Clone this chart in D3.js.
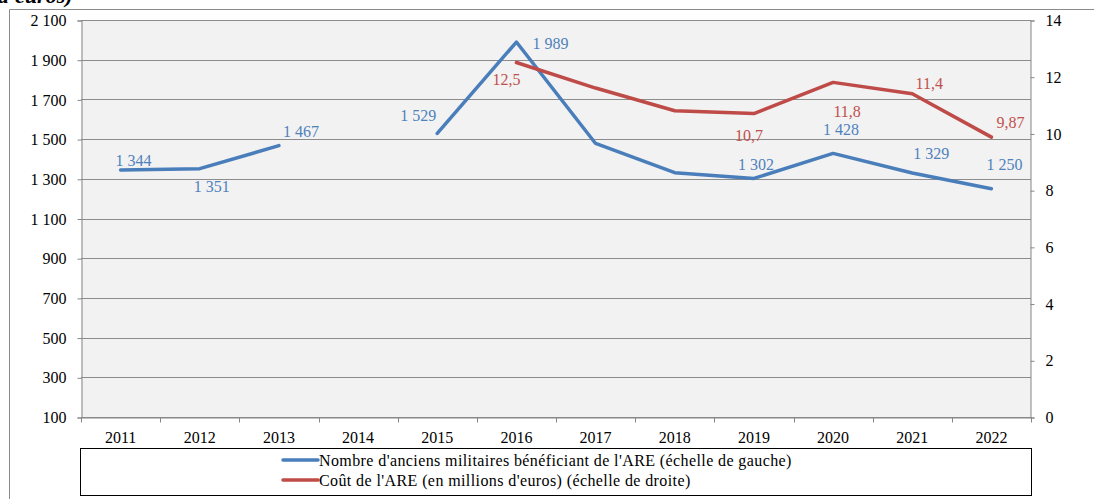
<!DOCTYPE html>
<html>
<head>
<meta charset="utf-8">
<script src="https://cdn.jsdelivr.net/npm/d3@7/dist/d3.min.js"></script>
<style>
  html, body { margin: 0; padding: 0; background: #fff; }
  svg { display: block; font-family: "Liberation Serif", "Times New Roman", serif; }
</style>
</head>
<body>
<svg id="chart" width="1094" height="499"></svg>
<script>
// Years on the horizontal axis
const years = ["2011","2012","2013","2014","2015","2016","2017","2018","2019","2020","2021","2022"];
// Number of former soldiers receiving ARE (left scale); null = no data
const beneficiaires = [1344, 1351, 1467, null, 1529, 1989, 1478, 1331, 1302, 1428, 1329, 1250];
// Cost of ARE in millions of euros (right scale)
const cout = [null, null, null, null, null, 12.5, 11.6, 10.8, 10.7, 11.8, 11.4, 9.87];
// Which points carry a value label
const labelBenef = [true, true, true, false, true, true, false, false, true, true, true, true];
const labelCout  = [false, false, false, false, false, true, false, false, true, true, true, true];
// Tick values
const leftTicks = [100, 300, 500, 700, 900, 1100, 1300, 1500, 1700, 1900, 2100];
const rightTicks = [0, 2, 4, 6, 8, 10, 12, 14];
const legendLabels = [
  "Nombre d'anciens militaires bénéficiant de l'ARE (échelle de gauche)",
  "Coût de l'ARE (en millions d'euros) (échelle de droite)"
];

const BLUE = "#4a7ebb", BLUE_TXT = "#4f81bd", RED = "#be4b48", RED_TXT = "#c0504d";
const GRID = "#8c8c8c", AXIS = "#868686";

// Label offsets (dx, dy from the point) for each series
const offBenef = [[13,-10],[12,18],[22,-14],null,[-19,-18],[34,1],null,null,[2,-14],[8,-24],[19,-20],[13,-24]];
const offCout  = [null,null,null,null,null,[-10,17],null,null,[-5,22],[14,29],[17,-10],[19,-15]];

const svg = d3.select("#chart");
const plot = { left: 81, right: 1031, top: 20, bottom: 417 };

const frFmt = v => d3.format(",")(v).replace(/,/g, " ");
const decFmt = v => String(v).replace(".", ",");

const x = d3.scaleBand().domain(years).range([plot.left, plot.right]).paddingInner(0).paddingOuter(0);
const yL = d3.scaleLinear().domain([100, 2100]).range([plot.bottom, plot.top]);
const yR = d3.scaleLinear().domain([0, 14]).range([plot.bottom, plot.top]);
const cx = i => x(years[i]) + x.bandwidth() / 2;

// Outer frame (top and left edges)
svg.append("path")
  .attr("d", `M9.5,499 V9.5 H1094`)
  .attr("fill", "none").attr("stroke", "#8a8a8a").attr("stroke-width", 1);

// Heading text running off the top edge
svg.append("text")
  .attr("x", -2).attr("y", 3)
  .attr("font-size", 22).attr("font-weight", "bold").attr("font-style", "italic")
  .attr("fill", "#000")
  .text("d'euros)");

// Plot background
svg.append("rect")
  .attr("x", plot.left).attr("y", plot.top)
  .attr("width", plot.right - plot.left).attr("height", plot.bottom - plot.top)
  .attr("fill", "#f2f2f2");

// Horizontal gridlines
svg.append("g").selectAll("line").data(leftTicks).join("line")
  .attr("x1", plot.left).attr("x2", plot.right)
  .attr("y1", d => Math.round(yL(d)) + 0.5).attr("y2", d => Math.round(yL(d)) + 0.5)
  .attr("stroke", GRID).attr("stroke-width", 1);

// Left axis
const gL = svg.append("g").attr("transform", `translate(${plot.left + 0.5},0.5)`)
  .call(d3.axisLeft(yL).tickValues(leftTicks).tickSize(4).tickPadding(11).tickFormat(frFmt));
// Right axis
const gR = svg.append("g").attr("transform", `translate(${plot.right - 0.5},0.5)`)
  .call(d3.axisRight(yR).tickValues(rightTicks).tickSize(4).tickPadding(11).tickFormat(d => d));
// Bottom axis: ticks on category boundaries
const gB = svg.append("g").attr("transform", `translate(0,${plot.bottom + 0.5})`)
  .call(d3.axisBottom(x).tickSize(0).tickPadding(14));
gB.append("g").selectAll("line").data(d3.range(years.length + 1)).join("line")
  .attr("x1", i => Math.round(plot.left + i * x.bandwidth()) + 0.5)
  .attr("x2", i => Math.round(plot.left + i * x.bandwidth()) + 0.5)
  .attr("y1", 0).attr("y2", 5)
  .attr("stroke", AXIS);

[gL, gR, gB].forEach(g => {
  g.select(".domain").attr("stroke", AXIS);
  g.selectAll(".tick line").attr("stroke", AXIS);
  g.selectAll("text").attr("font-size", 16).attr("fill", "#000")
    .attr("font-family", "Liberation Serif, serif");
});

// Lines
const lineL = d3.line().defined(d => d.v != null).x(d => cx(d.i)).y(d => yL(d.v));
const lineR = d3.line().defined(d => d.v != null).x(d => cx(d.i)).y(d => yR(d.v));
const dataL = beneficiaires.map((v, i) => ({ v, i }));
const dataR = cout.map((v, i) => ({ v, i }));

svg.append("path").datum(dataL).attr("d", lineL)
  .attr("fill", "none").attr("stroke", BLUE).attr("stroke-width", 3.5)
  .attr("stroke-linejoin", "round").attr("stroke-linecap", "round");
svg.append("path").datum(dataR).attr("d", lineR)
  .attr("fill", "none").attr("stroke", RED).attr("stroke-width", 3.5)
  .attr("stroke-linejoin", "round").attr("stroke-linecap", "round");

// Value labels
svg.append("g").selectAll("text")
  .data(dataL.filter(d => d.v != null && labelBenef[d.i])).join("text")
  .attr("x", d => cx(d.i) + offBenef[d.i][0])
  .attr("y", d => yL(d.v) + offBenef[d.i][1])
  .attr("text-anchor", "middle").attr("dominant-baseline", "central")
  .attr("font-size", 16).attr("fill", BLUE_TXT)
  .text(d => frFmt(d.v));
svg.append("g").selectAll("text")
  .data(dataR.filter(d => d.v != null && labelCout[d.i])).join("text")
  .attr("x", d => cx(d.i) + offCout[d.i][0])
  .attr("y", d => yR(d.v) + offCout[d.i][1])
  .attr("text-anchor", "middle").attr("dominant-baseline", "central")
  .attr("font-size", 16).attr("fill", RED_TXT)
  .text(d => decFmt(d.v));

// Legend
const lg = svg.append("g");
lg.append("rect")
  .attr("x", 80.5).attr("y", 448.5).attr("width", 951).attr("height", 47)
  .attr("fill", "#fff").attr("stroke", "#000").attr("stroke-width", 1);
const legColors = [BLUE, RED];
legendLabels.forEach((t, k) => {
  const yy = 460 + k * 20;
  lg.append("line").attr("x1", 283).attr("x2", 318).attr("y1", yy).attr("y2", yy)
    .attr("stroke", legColors[k]).attr("stroke-width", 3.5).attr("stroke-linecap", "round");
  lg.append("text").attr("x", 319).attr("y", yy).attr("dominant-baseline", "central")
    .attr("font-size", 16).attr("letter-spacing", 0.4).attr("fill", "#000").text(t);
});
</script>
</body>
</html>
